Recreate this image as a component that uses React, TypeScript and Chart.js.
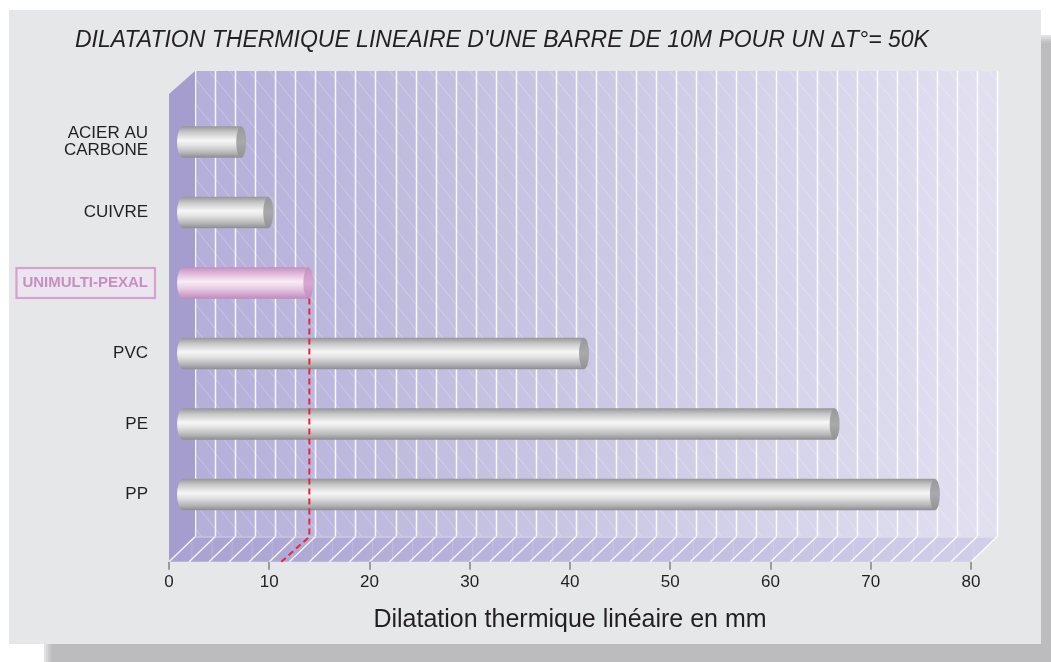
import React, { useEffect, useRef } from 'react';
import { Chart, registerables } from 'chart.js';

Chart.register(...registerables);

// ---- data ----
const categories: (string | string[])[] = [['ACIER AU', 'CARBONE'], 'CUIVRE', 'UNIMULTI-PEXAL', 'PVC', 'PE', 'PP'];
const expansionMm = [5.8, 8.5, 12.5, 40, 65, 75];
const xTickValues = [0, 10, 20, 30, 40, 50, 60, 70, 80];
const highlightIndex = 2;
const titleText = "DILATATION THERMIQUE LINEAIRE D'UNE BARRE DE 10M POUR UN \u2206T\u00B0= 50K";
const axisTitleText = 'Dilatation thermique linéaire en mm';

// ---- style ----
const FONT = '"Liberation Sans", Arial, Helvetica, sans-serif';
const W = 1051;
const H = 662;
const DEPTH_X = 26;
const DEPTH_Y = 25;
const FLOOR_GAP = 32; // distance from category area bottom to front floor edge
const WALL_TOP = 71;
const BAR_H = 31;
const PLOT_TOP = 106.75;
const PLOT_BOTTOM = 529.75;
const PLOT_LEFT = 169;
const PLOT_RIGHT = 971;
const LABEL_PAD = 21;

function barGradient(c: CanvasRenderingContext2D, yc: number, pink: boolean) {
  const g = c.createLinearGradient(0, yc - BAR_H / 2, 0, yc + BAR_H / 2);
  if (pink) {
    g.addColorStop(0, '#c58fc0');
    g.addColorStop(0.18, '#deb5d8');
    g.addColorStop(0.45, '#f8ecf5');
    g.addColorStop(0.6, '#efd9eb');
    g.addColorStop(0.85, '#d6a9d0');
    g.addColorStop(1, '#c08abb');
  } else {
    g.addColorStop(0, '#98989a');
    g.addColorStop(0.18, '#c7c7c8');
    g.addColorStop(0.45, '#f6f6f6');
    g.addColorStop(0.6, '#e4e4e4');
    g.addColorStop(0.85, '#b5b5b7');
    g.addColorStop(1, '#8e8e90');
  }
  return g;
}

const decorPlugin = {
  id: 'decor3d',
  beforeDraw(chart: any) {
    const c: CanvasRenderingContext2D = chart.ctx;
    const xs = chart.scales.x;
    const ys = chart.scales.y;
    const ca = chart.chartArea;
    c.save();
    // page
    c.fillStyle = '#ffffff';
    c.fillRect(0, 0, W, H);
    // shadow
    const sh = ['#e2e2e4', '#d6d6d8', '#cbcbcd', '#c2c2c4', '#bcbcbe'];
    sh.forEach((col, i) => {
      c.fillStyle = col;
      c.fillRect(44 + i * 2, 35 + i * 2, W - 44 - i * 2, H - 35 - i * 2);
    });
    // panel
    c.fillStyle = '#e6e7e8';
    c.fillRect(9, 10, 1041 - 9, 644 - 10);

    // title
    c.fillStyle = '#231f20';
    c.font = `italic 23px ${FONT}`;
    c.textBaseline = 'middle';
    c.textAlign = 'left';
    c.fillText(titleText, 75, 41);

    const frontY = ca.bottom + FLOOR_GAP;
    const backY = frontY - DEPTH_Y;
    const fx = (v: number) => xs.getPixelForValue(v);
    const bx = (v: number) => xs.getPixelForValue(v) + DEPTH_X;
    const x0 = fx(0);
    const x80 = fx(80);

    // back wall
    const gw = c.createLinearGradient(bx(0), 0, bx(80), 0);
    gw.addColorStop(0, '#b4afd9');
    gw.addColorStop(0.5, '#cbc8e5');
    gw.addColorStop(1, '#e2e0f0');
    c.fillStyle = gw;
    c.fillRect(bx(0), WALL_TOP, bx(80) - bx(0), backY - WALL_TOP);

    // hatch on back wall
    c.save();
    c.beginPath();
    c.rect(bx(0), WALL_TOP, bx(80) - bx(0), backY - WALL_TOP);
    c.clip();
    c.strokeStyle = 'rgba(255,255,255,0.35)';
    c.lineWidth = 0.8;
    const hgt = backY - WALL_TOP;
    for (let sx = bx(0) - hgt; sx < bx(80) + 20; sx += 20) {
      c.beginPath();
      c.moveTo(sx, WALL_TOP);
      c.lineTo(sx + hgt / 1.25, backY);
      c.stroke();
    }
    c.restore();

    // back wall grid
    c.strokeStyle = 'rgba(255,255,255,0.9)';
    c.lineWidth = 1.5;
    for (let v = 0; v <= 80; v += 2) {
      const x = Math.round(bx(v)) + 0.5;
      c.beginPath();
      c.moveTo(x, WALL_TOP);
      c.lineTo(x, backY);
      c.stroke();
    }

    // side wall
    c.fillStyle = '#a49dcd';
    c.beginPath();
    c.moveTo(x0, WALL_TOP + DEPTH_Y - 2);
    c.lineTo(bx(0), WALL_TOP);
    c.lineTo(bx(0), backY);
    c.lineTo(x0, frontY);
    c.closePath();
    c.fill();

    // floor
    const gf = c.createLinearGradient(x0, 0, bx(80), 0);
    gf.addColorStop(0, '#a9a2d2');
    gf.addColorStop(0.5, '#bdb8de');
    gf.addColorStop(1, '#d2cfea');
    c.fillStyle = gf;
    c.beginPath();
    c.moveTo(x0, frontY);
    c.lineTo(bx(0), backY);
    c.lineTo(bx(80), backY);
    c.lineTo(x80, frontY);
    c.closePath();
    c.fill();
    // floor back edge highlight
    c.strokeStyle = 'rgba(255,255,255,0.35)';
    c.lineWidth = 1;
    c.beginPath();
    c.moveTo(bx(0), backY + 0.5);
    c.lineTo(bx(80), backY + 0.5);
    c.stroke();
    // floor faint verticals
    c.strokeStyle = 'rgba(255,255,255,0.18)';
    for (let v = 1; v < 80; v += 2) {
      const xa = fx(v) + DEPTH_X / 2;
      c.beginPath();
      c.moveTo(xa, backY + 2);
      c.lineTo(xa, frontY - 1);
      c.stroke();
    }
    // floor diagonals
    c.strokeStyle = 'rgba(255,255,255,0.9)';
    c.lineWidth = 1.3;
    for (let v = 0; v <= 80; v += 2) {
      c.beginPath();
      c.moveTo(bx(v), backY);
      c.lineTo(fx(v), frontY);
      c.stroke();
    }

    // tick marks
    c.strokeStyle = '#9b9b9d';
    c.lineWidth = 2;
    xTickValues.forEach((v) => {
      const x = Math.round(fx(v));
      c.beginPath();
      c.moveTo(x, frontY);
      c.lineTo(x, frontY + 8);
      c.stroke();
    });

    // highlight box around UNIMULTI-PEXAL label
    const yc = ys.getPixelForValue(highlightIndex);
    c.font = `bold 15px ${FONT}`;
    const tw = c.measureText(String(categories[highlightIndex])).width;
    const right = ca.left - LABEL_PAD;
    c.fillStyle = '#ece5ef';
    c.fillRect(right - tw - 6, yc - 15, tw + 13, 30);
    c.strokeStyle = '#d3a2cf';
    c.lineWidth = 2.2;
    c.strokeRect(right - tw - 6, yc - 15, tw + 13, 30);
    c.restore();
  },
  afterDatasetsDraw(chart: any) {
    const c: CanvasRenderingContext2D = chart.ctx;
    const meta = chart.getDatasetMeta(0);
    const ca = chart.chartArea;
    c.save();
    meta.data.forEach((el: any, i: number) => {
      const pink = i === highlightIndex;
      // rounded start
      c.fillStyle = barGradient(c, el.y, pink);
      c.beginPath();
      c.ellipse(el.base, el.y, 6, BAR_H / 2, 0, Math.PI / 2, Math.PI * 1.5);
      c.fill();
      // end cap
      const gc = c.createLinearGradient(0, el.y - BAR_H / 2, 0, el.y + BAR_H / 2);
      if (pink) {
        gc.addColorStop(0, '#c892c3');
        gc.addColorStop(0.5, '#d6a8d1');
        gc.addColorStop(1, '#c38dbe');
      } else {
        gc.addColorStop(0, '#98989a');
        gc.addColorStop(0.5, '#a9a9ab');
        gc.addColorStop(1, '#929294');
      }
      c.fillStyle = gc;
      c.beginPath();
      c.ellipse(el.x, el.y, 5, BAR_H / 2, 0, 0, Math.PI * 2);
      c.fill();
    });
    // red dashed guide from highlighted bar down to the axis
    const hl = meta.data[highlightIndex];
    const frontY = ca.bottom + FLOOR_GAP;
    const backY = frontY - DEPTH_Y;
    c.strokeStyle = '#e8253b';
    c.lineWidth = 2;
    c.setLineDash([6, 4]);
    c.beginPath();
    c.moveTo(hl.x + 1, hl.y + BAR_H / 2);
    c.lineTo(hl.x + 1, backY);
    c.lineTo(hl.x + 1 - 28, frontY);
    c.stroke();
    c.restore();
  },
};

export default function App() {
  const ref = useRef<HTMLCanvasElement | null>(null);
  useEffect(() => {
    if (!ref.current) return;
    const chart = new Chart(ref.current, {
      type: 'bar',
      data: {
        labels: categories as any,
        datasets: [
          {
            data: expansionMm,
            xAxisID: 'xb',
            barThickness: BAR_H,
            borderWidth: 0,
            backgroundColor: (ctx: any) => {
              const ch = ctx.chart;
              if (!ch.chartArea || ctx.dataIndex === undefined) return '#cccccc';
              const yc = ch.scales.y.getPixelForValue(ctx.dataIndex);
              return barGradient(ch.ctx, yc, ctx.dataIndex === highlightIndex);
            },
          },
        ],
      },
      options: {
        indexAxis: 'y',
        responsive: false,
        animation: false,
        devicePixelRatio: 1,
        layout: { padding: { left: 0, right: W - PLOT_RIGHT, top: PLOT_TOP, bottom: 0 } },
        plugins: {
          legend: { display: false },
          tooltip: { enabled: false },
          title: { display: false },
        },
        scales: {
          x: {
            type: 'linear',
            position: 'bottom',
            min: 0,
            max: 80,
            afterBuildTicks: (s: any) => {
              s.ticks = xTickValues.map((v) => ({ value: v }));
            },
            afterFit: (s: any) => {
              s.height = H - PLOT_BOTTOM;
            },
            grid: { display: false, drawTicks: false },
            border: { display: false },
            ticks: {
              color: '#231f20',
              font: { family: FONT, size: 17 },
              padding: 42,
              maxRotation: 0,
            },
            title: {
              display: true,
              text: axisTitleText,
              color: '#231f20',
              font: { family: FONT, size: 25 },
              padding: { top: 0, bottom: 27 },
            },
          },
          xb: {
            type: 'linear',
            display: false,
            position: 'bottom',
            min: -1.4,
            max: 78.6,
          },
          y: {
            type: 'category',
            offset: true,
            afterFit: (s: any) => {
              s.width = PLOT_LEFT;
            },
            grid: { display: false, drawTicks: false },
            border: { display: false },
            ticks: {
              padding: LABEL_PAD,
              color: (ctx: any) => (ctx.index === highlightIndex ? '#c58fc1' : '#231f20'),
              font: (ctx: any) =>
                ctx.index === highlightIndex
                  ? { family: FONT, size: 15, weight: 'bold', lineHeight: 1.1 }
                  : { family: FONT, size: 17, weight: 'normal', lineHeight: 1.0 },
            },
          },
        },
      },
      plugins: [decorPlugin],
    } as any);
    return () => chart.destroy();
  }, []);
  return (
    <div style={{ position: 'fixed', left: 0, top: 0, width: W, height: H }}>
      <canvas ref={ref} width={W} height={H} style={{ display: 'block', width: W, height: H }} />
    </div>
  );
}
